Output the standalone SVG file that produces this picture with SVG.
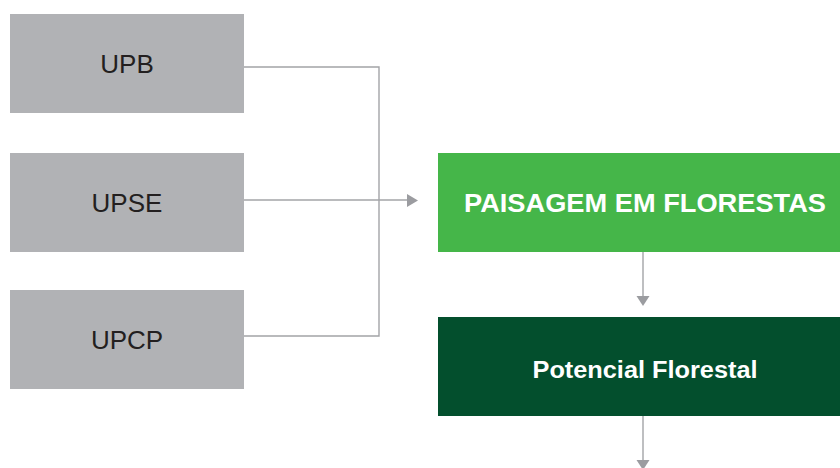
<svg xmlns="http://www.w3.org/2000/svg" width="840" height="468" viewBox="0 0 840 468">
<style>
.src rect{fill:#b1b2b5}
.src text{font-family:"Liberation Sans",Arial,sans-serif;font-size:26px;fill:#231f20;text-anchor:middle}
.conn{fill:none;stroke:#a3a4a7;stroke-width:1.4}
.head{fill:#9b9ca0}
.w{font-family:"Liberation Sans",Arial,sans-serif;font-weight:bold;fill:#fff;text-anchor:middle}
</style>
<rect width="840" height="468" fill="#fff"/>
<g id="upb" class="src"><rect x="10" y="14" width="234" height="99"/><text x="127" y="73">UPB</text></g>
<g id="upse" class="src"><rect x="10" y="153" width="234" height="99"/><text x="127" y="212">UPSE</text></g>
<g id="upcp" class="src"><rect x="10" y="290" width="234" height="99"/><text x="127" y="349">UPCP</text></g>
<g id="paisagem"><rect x="438" y="153" width="402" height="99" fill="#45b649"/><text class="w" x="645" y="212" font-size="26" textLength="362" lengthAdjust="spacingAndGlyphs">PAISAGEM EM FLORESTAS</text></g>
<g id="potencial"><rect x="438" y="317" width="402" height="99" fill="#034f2d"/><text class="w" x="645" y="378" font-size="23" textLength="225" lengthAdjust="spacingAndGlyphs">Potencial Florestal</text></g>
<g id="connectors">
<path class="conn" d="M244 67H379V336H244"/>
<path class="conn" d="M244 200H408"/>
<polygon class="head" points="407,194 418,200.5 407,207"/>
<path class="conn" d="M643 252V296"/>
<polygon class="head" points="636.5,296 649.5,296 643,306"/>
<path class="conn" d="M643 416V460"/>
<polygon class="head" points="636.5,460 649.5,460 643,470"/>
</g>
</svg>
